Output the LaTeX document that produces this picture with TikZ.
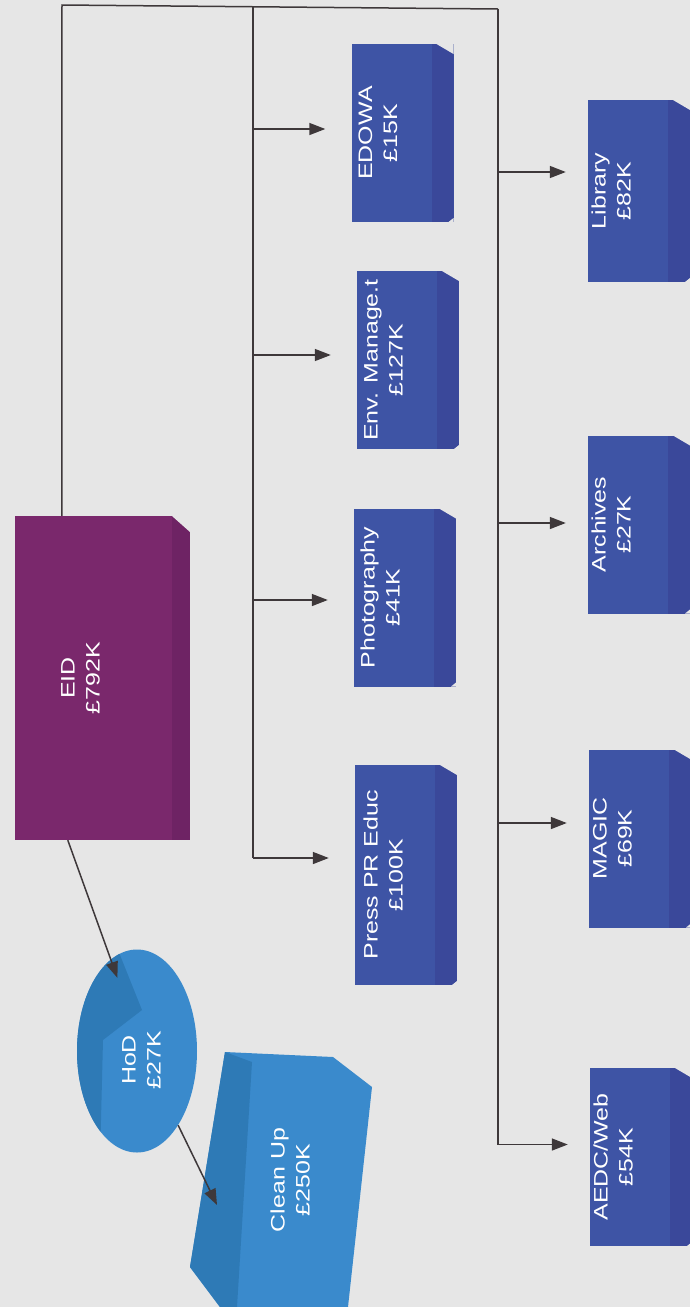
\documentclass[tikz,border=0pt]{standalone}
\usepackage{fontspec}
\setmainfont{Liberation Sans}
\usepackage{tikz}
\usetikzlibrary{positioning,calc,arrows.meta,shapes.geometric}
\usepackage{xcolor}
\definecolor{paper}{RGB}{230,230,230}
\definecolor{deptblue}{RGB}{62,84,165}
\definecolor{deptside}{RGB}{58,72,154}
\definecolor{eidpurple}{RGB}{122,40,108}
\definecolor{eidside}{RGB}{110,35,100}
\definecolor{hodblue}{RGB}{58,138,204}
\definecolor{hodside}{RGB}{46,122,182}
\definecolor{wire}{RGB}{62,56,58}
\def\vlab#1#2#3{\rotatebox{90}{\scalebox{1.28}[1]{\begin{tabular}{@{}c@{}}#1\\#2\end{tabular}}}\hspace*{#3}}
\tikzset{
    box/.style={rectangle, inner sep=0pt, text=white, font=\fontsize{19.5}{25}\selectfont},
    dept/.style={box, fill=deptblue, minimum width=102pt, minimum height=178pt,
        path picture={
            \fill[deptside] ([xshift=-22pt]path picture bounding box.north east) rectangle (path picture bounding box.south east);
            \fill[paper] (path picture bounding box.north east) -- ++(-17pt,0) -- ++(17pt,-10pt) -- cycle;
            \fill[paper] (path picture bounding box.south east) -- ++(-5pt,0) -- ++(5pt,4pt) -- cycle;}},
    head/.style={box, fill=eidpurple, minimum width=175pt, minimum height=324pt,
        path picture={
            \fill[eidside] ([xshift=-18pt]path picture bounding box.north east) rectangle (path picture bounding box.south east);
            \fill[paper] (path picture bounding box.north east) -- ++(-18pt,0) -- ++(18pt,-16pt) -- cycle;}},
    wire/.style={draw=wire, line width=1.5pt},
    arr/.style={wire, -{Triangle[length=16pt,width=12pt]}},
}

\begin{document}
\begin{tikzpicture}[x=1pt,y=-1pt]
    \fill[paper] (0,0) rectangle (690,1307);
    \useasboundingbox (0,0) rectangle (690,1307);

    \node[head] (eid) at (102.5,678) {\vlab{EID}{£792K}{41pt}};

    \node[dept] (edowa) at (402.5,133) {\vlab{EDOWA}{£15K}{46pt}};
    \node[dept] (env) at (408,360) {\vlab{Env. Manage.t}{£127K}{46pt}};
    \node[dept] (photo) at (405,597.5) {\vlab{Photography}{£41K}{46pt}};
    \node[dept, minimum height=220pt] (press) at (406,875) {\vlab{Press PR Educ}{£100K}{42pt}};

    \node[dept, minimum height=182pt] (lib) at (639,191) {\vlab{Library}{£82K}{52pt}};
    \node[dept] (arch) at (639,524.5) {\vlab{Archives}{£27K}{52pt}};
    \node[dept] (magic) at (640,838.5) {\vlab{MAGIC}{£69K}{52pt}};
    \node[dept] (aedc) at (641,1157) {\vlab{AEDC/Web}{£54K}{52pt}};

    % HoD blob
    \node[ellipse, fill=hodblue, inner sep=0pt, minimum width=120pt, minimum height=203pt] (hodshape) at (137,1051) {};
    \begin{scope}
        \clip (137,1051) ellipse [x radius=60, y radius=101.5];
        \fill[hodside] (60,930) -- (118,950) -- (142,1010) -- (103,1040) -- (100,1160) -- (60,1160) -- cycle;
    \end{scope}
    \node[box] (hod) at (143,1060) {\vlab{HoD}{£27K}{0pt}};

    % Clean Up block
    \fill[hodblue] (225,1052) -- (333,1057) -- (372,1087) -- (348,1307) -- (220,1307) -- (190,1267) -- cycle;
    \fill[hodside] (225,1052) -- (252,1062) -- (237,1307) -- (220,1307) -- (190,1267) -- cycle;
    \node[box] (clean) at (292,1180) {\vlab{Clean Up}{£250K}{0pt}};

    % buses
    \coordinate (corner) at (62,5);
    \coordinate (busL) at (253,7);
    \coordinate (busR) at (498,9);
    \draw[wire] ([xshift=47pt]eid.north west) -- (corner) -- (busR);

    \foreach \n/\dy in {edowa/4,env/5,photo/-2.5,press/17}{
        \path ([yshift=\dy pt]\n.west) coordinate (t-\n);
        \draw[arr] (busL |- t-\n) -- ([xshift=-26pt]t-\n);
    }
    \foreach \n/\dy in {lib/19,arch/1.5,magic/15.5,aedc/12.5}{
        \path ([yshift=\dy pt]\n.west) coordinate (t-\n);
        \draw[arr] (busR |- t-\n) -- ([xshift=-22pt]t-\n);
    }
    \draw[wire] (busL) -- (busL |- t-press);
    \draw[wire] (busR) -- (busR |- t-aedc);

    \draw[arr] ([xshift=53pt]eid.south west) -- ($(hodshape.center)!0.79!(hodshape.105)$);
    \draw[arr] (hodshape.-61) -- ([shift={(-75pt,-25pt)}]clean.center);
\end{tikzpicture}
\end{document}
